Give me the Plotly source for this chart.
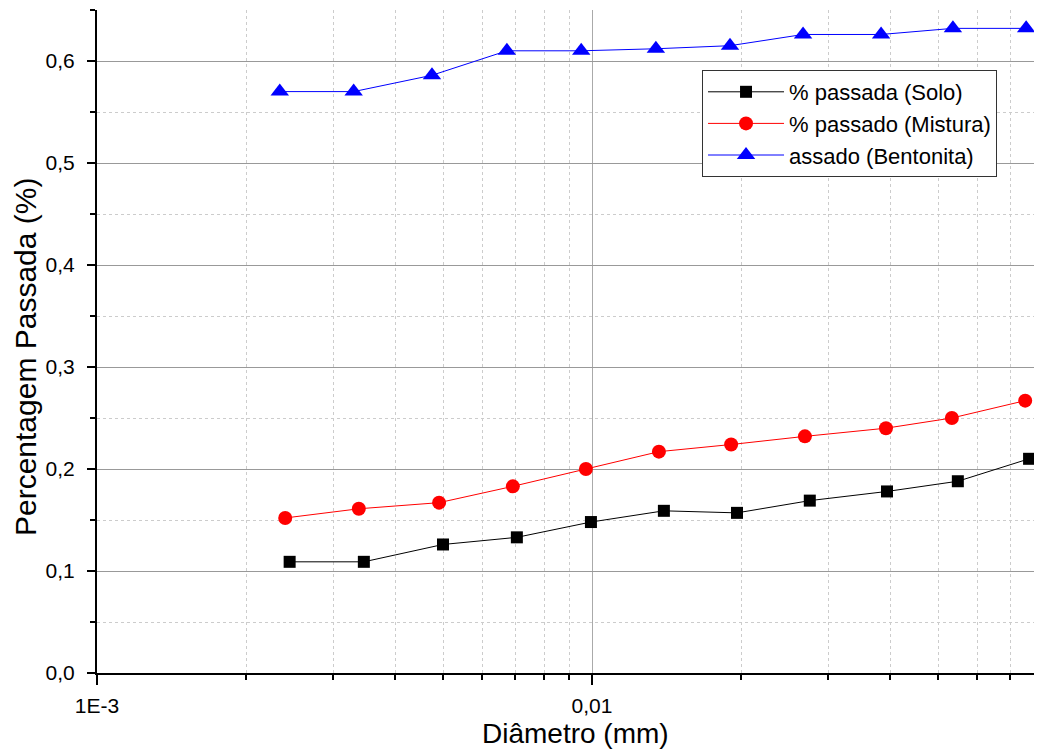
import plotly.graph_objects as go

# Data
diam_solo = [0.00245, 0.00346, 0.00500, 0.00705, 0.00995, 0.01397, 0.01963, 0.02754, 0.03944, 0.05483, 0.07637]
pass_solo = [0.109, 0.109, 0.126, 0.133, 0.148, 0.159, 0.157, 0.169, 0.178, 0.188, 0.210]

diam_mist = [0.00240, 0.00338, 0.00491, 0.00692, 0.00972, 0.01365, 0.01910, 0.02692, 0.03925, 0.05333, 0.07500]
pass_mist = [0.152, 0.161, 0.167, 0.183, 0.200, 0.217, 0.224, 0.232, 0.240, 0.250, 0.267]

diam_bent = [0.00234, 0.00330, 0.00475, 0.00673, 0.00951, 0.01346, 0.01900, 0.02669, 0.03837, 0.05359, 0.07534]
pass_bent = [0.570, 0.570, 0.586, 0.610, 0.610, 0.612, 0.615, 0.626, 0.626, 0.632, 0.632]

x_tickvals = [0.001, 0.01]
x_ticktext = ["1E-3", "0,01"]
x_minor = [m * 10 ** e for e in (-3, -2) for m in range(2, 10)]

x_title = "Diâmetro (mm)"
y_title = "Percentagem Passada (%)"

FONT = "Liberation Sans, Arial, sans-serif"

fig = go.Figure()
fig.add_trace(go.Scatter(x=diam_solo, y=pass_solo, mode="lines+markers", name="% passada (Solo)",
                         line=dict(color="black", width=1),
                         marker=dict(symbol="square", size=12, color="black")))
fig.add_trace(go.Scatter(x=diam_mist, y=pass_mist, mode="lines+markers", name="% passado (Mistura)",
                         line=dict(color="red", width=1),
                         marker=dict(symbol="circle", size=14, color="red")))
fig.add_trace(go.Scatter(x=diam_bent, y=pass_bent, mode="lines+markers", name="assado (Bentonita)",
                         line=dict(color="blue", width=1),
                         marker=dict(symbol="triangle-up", size=16, color="blue")))

# page body has an 8px margin, so the figure is sized/offset to land on the same pixels
fig.update_layout(
    width=1034, height=743,
    margin=dict(l=89, r=2, t=2, b=78),
    paper_bgcolor="white", plot_bgcolor="white",
    separators=",.",
    font=dict(family=FONT, color="black", size=20),
    showlegend=True,
    legend=dict(x=0.6416, y=0.9095, xanchor="left", yanchor="top",
                bordercolor="#333333", borderwidth=1, bgcolor="white",
                font=dict(size=22), tracegroupgap=0, itemwidth=76),
    annotations=[
        dict(text=x_title, xref="paper", yref="paper", x=0.507, y=-0.0905,
             xanchor="center", yanchor="middle", showarrow=False, font=dict(size=28)),
        dict(text=y_title, xref="paper", yref="paper", x=-0.0764, y=0.478, textangle=-90,
             xanchor="center", yanchor="middle", showarrow=False, font=dict(size=30)),
    ],
)

fig.update_xaxes(
    type="log", range=[-3, -1.095], automargin=False,
    tickmode="array", tickvals=x_tickvals, ticktext=x_ticktext,
    ticks="outside", ticklen=10, tickwidth=2, tickcolor="black", ticklabelstandoff=3,
    showline=True, linecolor="black", linewidth=2,
    showgrid=True, gridcolor="#aaaaaa", gridwidth=1,
    minor=dict(tickmode="array", tickvals=x_minor, ticks="outside", ticklen=5, tickwidth=2,
               tickcolor="black", showgrid=True, gridcolor="#cccccc", griddash="dot", gridwidth=1),
    zeroline=False,
    tickfont=dict(size=21),
)

fig.update_yaxes(
    range=[0, 0.65], dtick=0.1, tick0=0, tickformat=".1f", automargin=False,
    ticks="outside", ticklen=8, tickwidth=2, tickcolor="black", ticklabelstandoff=8,
    showline=True, linecolor="black", linewidth=2,
    showgrid=True, gridcolor="#999999", gridwidth=1,
    minor=dict(dtick=0.05, tick0=0, ticks="outside", ticklen=5, tickwidth=2, tickcolor="black",
               showgrid=True, gridcolor="#cccccc", griddash="dot", gridwidth=1),
    zeroline=False,
    tickfont=dict(size=21),
)

fig.write_html("out.html")
